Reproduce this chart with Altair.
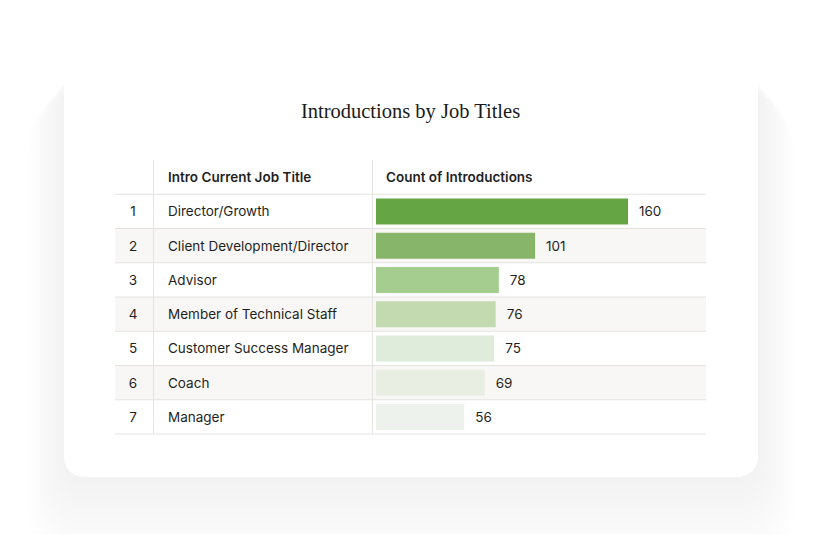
import altair as alt
import pandas as pd

# ---- data ----
ranks = ["1", "2", "3", "4", "5", "6", "7"]
job_titles = [
    "Director/Growth",
    "Client Development/Director",
    "Advisor",
    "Member of Technical Staff",
    "Customer Success Manager",
    "Coach",
    "Manager",
]
counts = [160, 101, 78, 76, 75, 69, 56]
bar_colors = ["#66a544", "#87b56a", "#a5cd90", "#c3dab0", "#dfecdb", "#e9eee3", "#eef2ec"]
header_labels = ["Intro Current Job Title", "Count of Introductions"]
chart_title = ["Introductions by Job Titles"]

W, H = 591, 274
row_domain = ["h"] + ranks
FONT = "Inter"
TXT = "#1f1f1f"
LINE = "#e4e3e0"

df = pd.DataFrame({"rank": ranks, "title": job_titles, "count": counts})
striped = pd.DataFrame({"rank": ranks[1::2]})
lines_df = pd.DataFrame({"rank": row_domain})
header_df = pd.DataFrame({"rank": ["h", "h"], "label": header_labels, "col": ["t", "c"]})
title_df = pd.DataFrame({"t": chart_title})
one = pd.DataFrame({"k": [0]})

yscale = alt.Scale(domain=row_domain, paddingInner=0, paddingOuter=0)
Y = alt.Y("rank:O", scale=yscale, axis=None)
xscale = alt.Scale(domain=[0, 160], range=[261, 513])

# card with soft shadow (decorative)
shadow_layers = []
for i in range(12):
    g = 3 * (i + 1)
    shadow_layers.append(
        alt.Chart(one).mark_rect(
            fill="#000000", opacity=0.0045, cornerRadius=22 + g
        ).encode(
            x=alt.value(-51 - g), x2=alt.value(643 + g),
            y=alt.value(-92 - g + 1.6 * g), y2=alt.value(317 + g + 1.6 * g),
        )
    )
card = alt.Chart(one).mark_rect(fill="white", cornerRadius=20).encode(
    x=alt.value(-51), x2=alt.value(643), y=alt.value(-92), y2=alt.value(317)
)

title_mark = alt.Chart(title_df).mark_text(
    font="Liberation Serif", fontSize=20.5, color="#1a1a1a", align="center", baseline="middle"
).encode(x=alt.value(W / 2), y=alt.value(-48), text="t:N")

stripes = alt.Chart(striped).mark_rect(fill="#f8f7f5").encode(
    y=Y, x=alt.value(0), x2=alt.value(W)
)

hlines = alt.Chart(lines_df).mark_rule(color=LINE, strokeWidth=1).encode(
    y=alt.Y("rank:O", scale=yscale, axis=None, bandPosition=1),
    x=alt.value(0), x2=alt.value(W),
)
vline1 = alt.Chart(one).mark_rule(color=LINE, strokeWidth=1).encode(
    x=alt.value(38.5), y=alt.value(0), y2=alt.value(H)
)
vline2 = alt.Chart(one).mark_rule(color=LINE, strokeWidth=1).encode(
    x=alt.value(257.5), y=alt.value(0), y2=alt.value(H)
)

bars = alt.Chart(df).mark_bar(size=26, cornerRadius=0).encode(
    y=Y,
    x=alt.X("count:Q", scale=xscale, axis=None),
    color=alt.Color("rank:N", scale=alt.Scale(domain=ranks, range=bar_colors), legend=None),
)
vals = alt.Chart(df).mark_text(align="left", dx=11, dy=1, font=FONT, fontSize=13.5, color=TXT).encode(
    y=Y, x=alt.X("count:Q", scale=xscale, axis=None), text="count:Q"
)
rank_txt = alt.Chart(df).mark_text(align="center", dy=1, font=FONT, fontSize=13.5, color=TXT).encode(
    y=Y, x=alt.value(18), text="rank:N"
)
title_txt = alt.Chart(df).mark_text(align="left", dy=1, font=FONT, fontSize=13.5, color=TXT).encode(
    y=Y, x=alt.value(53), text="title:N"
)
head_t = alt.Chart(header_df).transform_filter(alt.datum.col == "t").mark_text(
    align="left", dy=1, font=FONT, fontSize=13.5, fontWeight=600, color=TXT
).encode(y=Y, x=alt.value(53), text="label:N")
head_c = alt.Chart(header_df).transform_filter(alt.datum.col == "c").mark_text(
    align="left", dy=1, font=FONT, fontSize=13.5, fontWeight=600, color=TXT
).encode(y=Y, x=alt.value(271), text="label:N")

chart = alt.layer(
    *shadow_layers, card, title_mark, stripes, hlines, vline1, vline2, bars, vals,
    rank_txt, title_txt, head_t, head_c
).properties(
    width=W, height=H,
    autosize=alt.AutoSizeParams(type="none"),
    padding={"left": 107, "top": 152, "right": 100, "bottom": 100},
).configure_view(stroke=None).configure(background="white")

chart.save("out.html", embed_options={"renderer": "svg", "actions": False})
